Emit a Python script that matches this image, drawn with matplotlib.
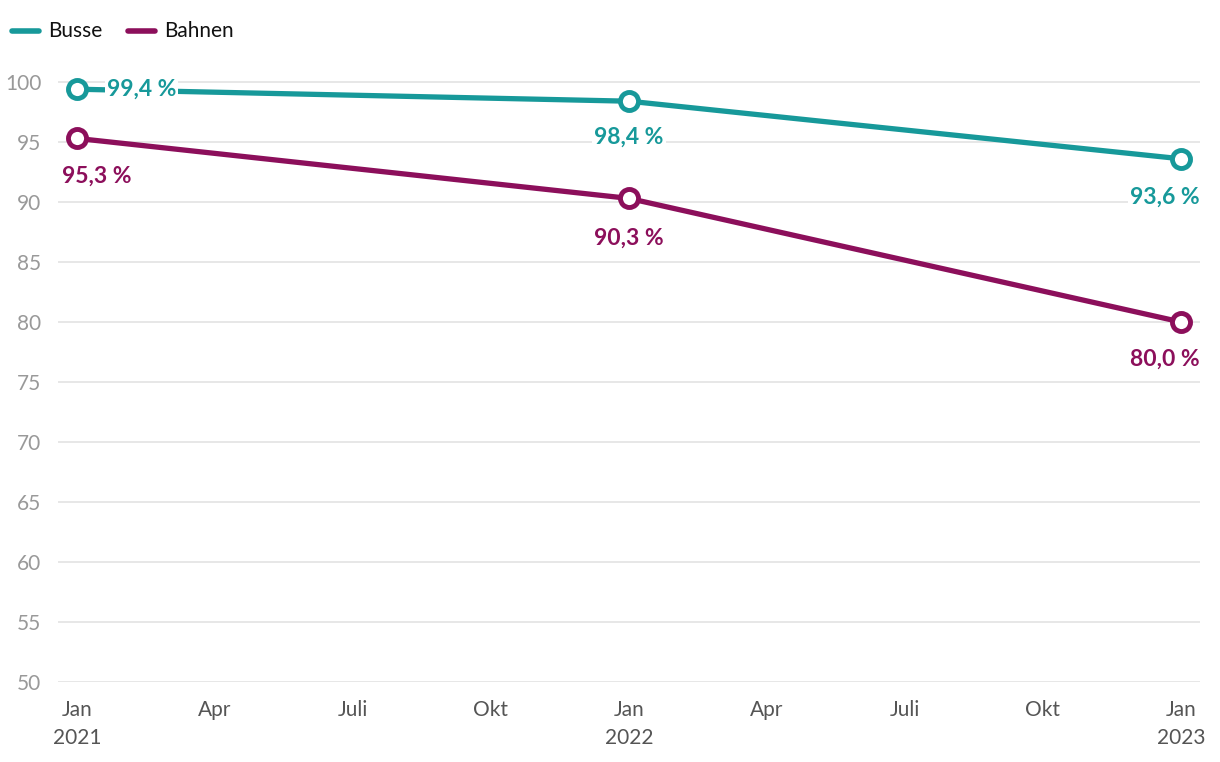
import matplotlib.pyplot as plt
import numpy as np

# Data (months since Jan 2021)
months = [0, 12, 24]
busse = [99.4, 98.4, 93.6]
bahnen = [95.3, 90.3, 80.0]
busse_labels = ['99,4 %', '98,4 %', '93,6 %']
bahnen_labels = ['95,3 %', '90,3 %', '80,0 %']

tick_pos = [0, 3, 6, 9, 12, 15, 18, 21, 24]
tick_labels = ['Jan\n2021', 'Apr', 'Juli', 'Okt', 'Jan\n2022', 'Apr', 'Juli', 'Okt', 'Jan\n2023']
yticks = np.arange(50, 101, 5)

teal = '#17999a'
purple = '#8c0f5b'

plt.rcParams['font.family'] = ['Lato', 'DejaVu Sans']

fig = plt.figure(figsize=(12.2, 7.62), dpi=100)
ax = fig.add_axes([58/1220, 80/762, 1142/1220, (682-58)/762])

xmin, xmax = -19/46, 24 + 19/46
ax.set_xlim(xmin, xmax)
ax.set_ylim(50, 102)

for y in yticks:
    ax.axhline(y, color='#e3e3e3', lw=1.2, zorder=0)

ax.plot(months, busse, color=teal, lw=3.8, solid_capstyle='round', zorder=3)
ax.plot(months, bahnen, color=purple, lw=3.8, solid_capstyle='round', zorder=3)
ax.plot(months, busse, 'o', ms=13, mfc='white', mec=teal, mew=3.5, zorder=5)
ax.plot(months, bahnen, 'o', ms=13, mfc='white', mec=purple, mew=3.5, zorder=5)

box = dict(facecolor='white', edgecolor='none', pad=1.5)
lab = dict(fontsize=16.5, fontweight='bold', va='center', bbox=box, zorder=4)
# Busse labels
ax.text(months[0] + 0.65, busse[0], busse_labels[0], color=teal, ha='left', **lab)
ax.text(months[1], busse[1] - 3.0, busse_labels[1], color=teal, ha='center', **lab)
ax.text(xmax, busse[2] - 3.2, busse_labels[2], color=teal, ha='right', **lab)
# Bahnen labels
ax.text(-0.33, bahnen[0] - 3.15, bahnen_labels[0], color=purple, ha='left', **lab)
ax.text(months[1], bahnen[1] - 3.3, bahnen_labels[1], color=purple, ha='center', **lab)
ax.text(xmax, bahnen[2] - 3.1, bahnen_labels[2], color=purple, ha='right', **lab)

ax.set_yticks(yticks)
ax.set_yticklabels([str(v) for v in yticks], color='#999999', fontsize=15)
ax.set_xticks(tick_pos)
ax.set_xticklabels(tick_labels, color='#555555', fontsize=15, linespacing=1.5)
ax.tick_params(axis='y', length=0, pad=12)
ax.tick_params(axis='x', length=0, pad=13)
for s in ax.spines.values():
    s.set_visible(False)
ax.set_facecolor('none')

# legend at top left
for lx, col, name in [(12, teal, 'Busse'), (128, purple, 'Bahnen')]:
    fig.add_artist(plt.Line2D([lx/1220, (lx+27)/1220], [1 - 31/762, 1 - 31/762], color=col, lw=4,
                              solid_capstyle='round', transform=fig.transFigure))
    fig.text((lx + 36)/1220, 1 - 31/762, name, fontsize=15, color='#111111', va='center', ha='left')

fig.savefig('out.png', dpi=100)
